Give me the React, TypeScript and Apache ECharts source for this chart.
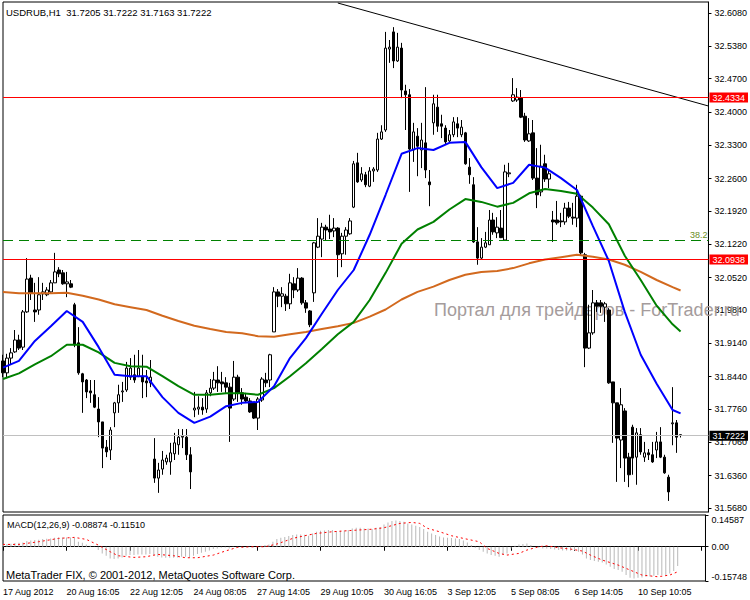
import React, { useEffect, useRef } from 'react';
import * as echarts from 'echarts';

const FONT = "'Liberation Sans', Arial, sans-serif";
const TOTAL_SLOTS = 178;

const timeLabels = ['17 Aug 2012', '20 Aug 16:05', '22 Aug 12:05', '24 Aug 08:05', '27 Aug 14:05', '29 Aug 10:05', '30 Aug 16:05', '3 Sep 12:05', '5 Sep 08:05', '6 Sep 14:05', '10 Sep 10:05'];
const priceTicks = [31.568, 31.636, 31.706, 31.776, 31.844, 31.914, 31.984, 32.052, 32.122, 32.192, 32.26, 32.33, 32.4, 32.47, 32.538, 32.608];
const macdTicks = [-0.15748, 0, 0.14587];

const opens = [31.877,31.852,31.883,31.896,31.921,31.906,31.980,32.051,31.984,31.984,32.018,32.016,32.022,32.041,32.068,32.062,32.039,32.039,31.995,31.915,31.850,31.837,31.814,31.806,31.776,31.749,31.696,31.690,31.768,31.789,31.812,31.816,31.843,31.848,31.845,31.845,31.835,31.831,31.671,31.631,31.650,31.665,31.665,31.682,31.701,31.717,31.717,31.680,31.774,31.776,31.780,31.776,31.810,31.820,31.837,31.833,31.831,31.822,31.797,31.843,31.810,31.801,31.793,31.789,31.757,31.795,31.837,31.837,31.938,32.022,32.013,32.013,31.997,32.039,32.026,32.051,31.999,31.982,32.020,32.116,32.133,32.158,32.154,32.150,32.156,32.102,32.139,32.144,32.200,32.293,32.257,32.268,32.244,32.276,32.278,32.343,32.362,32.532,32.568,32.507,32.534,32.444,32.436,32.320,32.349,32.320,32.335,32.253,32.377,32.410,32.375,32.366,32.339,32.352,32.375,32.352,32.356,32.284,32.247,32.127,32.093,32.116,32.121,32.173,32.146,32.156,32.131,32.270,32.423,32.425,32.429,32.391,32.339,32.356,32.261,32.232,32.291,32.259,32.173,32.173,32.171,32.169,32.198,32.179,32.177,32.223,32.100,31.904,31.936,31.999,31.999,31.990,31.984,31.833,31.789,31.711,31.772,31.675,31.738,31.675,31.722,31.675,31.684,31.680,31.690,31.707,31.675,31.633,31.745,31.747,31.7205];
const closes = [31.852,31.883,31.894,31.921,31.904,31.980,32.049,32.020,31.980,32.016,32.022,32.026,32.041,32.064,32.060,32.039,32.043,32.032,31.911,31.852,31.833,31.812,31.810,31.780,31.749,31.694,31.686,31.732,31.789,31.806,31.814,31.862,31.862,31.837,31.862,31.833,31.831,31.843,31.631,31.648,31.669,31.673,31.684,31.705,31.717,31.719,31.680,31.644,31.778,31.780,31.774,31.810,31.820,31.837,31.831,31.829,31.822,31.778,31.843,31.810,31.797,31.793,31.770,31.757,31.797,31.839,31.831,31.890,32.022,32.013,32.018,31.997,32.041,32.026,32.051,31.999,31.988,31.953,32.125,32.139,32.158,32.152,32.148,32.156,32.100,32.139,32.152,32.171,32.291,32.253,32.270,32.247,32.276,32.280,32.343,32.358,32.534,32.536,32.507,32.536,32.446,32.436,32.322,32.358,32.328,32.341,32.278,32.247,32.417,32.370,32.370,32.337,32.352,32.379,32.366,32.368,32.291,32.268,32.127,32.093,32.116,32.125,32.173,32.148,32.158,32.136,32.274,32.272,32.436,32.431,32.389,32.341,32.354,32.261,32.226,32.286,32.259,32.270,32.169,32.167,32.169,32.198,32.181,32.177,32.223,32.104,31.904,31.936,31.999,31.992,31.992,31.997,31.831,31.789,31.715,31.785,31.673,31.638,31.673,31.726,31.686,31.684,31.680,31.665,31.707,31.675,31.642,31.602,31.747,31.717,31.7222];
const highs = [31.890,31.892,31.904,31.942,31.932,31.984,32.093,32.058,32.041,32.053,32.041,32.032,32.047,32.104,32.074,32.068,32.064,32.047,31.999,31.948,31.852,31.839,31.837,31.837,31.801,31.749,31.711,31.738,31.791,31.827,31.833,31.875,31.883,31.890,31.900,31.890,31.858,31.879,31.715,31.663,31.688,31.680,31.705,31.726,31.734,31.734,31.734,31.696,31.812,31.803,31.799,31.816,31.839,31.854,31.866,31.854,31.843,31.831,31.877,31.848,31.820,31.810,31.799,31.791,31.801,31.843,31.852,31.892,32.032,32.028,32.032,32.018,32.060,32.053,32.072,32.053,32.005,31.984,32.127,32.177,32.167,32.163,32.184,32.177,32.158,32.146,32.158,32.177,32.297,32.314,32.284,32.274,32.284,32.284,32.356,32.372,32.568,32.551,32.578,32.566,32.545,32.457,32.448,32.377,32.366,32.377,32.452,32.278,32.436,32.436,32.394,32.372,32.362,32.389,32.389,32.383,32.358,32.303,32.263,32.158,32.135,32.148,32.194,32.188,32.179,32.194,32.289,32.293,32.471,32.450,32.446,32.398,32.387,32.383,32.324,32.331,32.310,32.278,32.192,32.213,32.188,32.209,32.211,32.209,32.247,32.226,32.104,31.995,32.026,32.005,32.005,32.001,31.988,31.833,31.789,31.820,31.778,31.684,31.743,31.736,31.736,31.707,31.692,31.707,31.728,31.738,31.680,31.638,31.822,31.753,31.7222];
const lows = [31.843,31.841,31.869,31.894,31.900,31.900,31.978,32.005,31.959,31.974,32.005,32.013,32.020,32.041,32.053,32.037,32.011,32.030,31.906,31.848,31.768,31.799,31.789,31.778,31.717,31.652,31.675,31.669,31.738,31.768,31.791,31.812,31.837,31.831,31.843,31.799,31.801,31.822,31.621,31.600,31.638,31.659,31.638,31.669,31.680,31.694,31.669,31.608,31.759,31.764,31.764,31.768,31.803,31.816,31.812,31.812,31.810,31.707,31.793,31.791,31.785,31.789,31.768,31.755,31.732,31.791,31.822,31.822,31.938,31.990,31.990,31.982,31.986,32.009,32.022,31.995,31.978,31.948,32.001,32.114,32.095,32.131,32.133,32.137,32.053,32.074,32.100,32.142,32.198,32.251,32.253,32.242,32.242,32.253,32.274,32.341,32.358,32.503,32.492,32.505,32.429,32.362,32.232,32.295,32.265,32.282,32.261,32.202,32.352,32.358,32.345,32.331,32.335,32.347,32.347,32.347,32.289,32.249,32.125,32.079,32.089,32.114,32.121,32.142,32.135,32.135,32.129,32.263,32.421,32.421,32.387,32.337,32.337,32.257,32.198,32.223,32.253,32.240,32.127,32.163,32.158,32.163,32.177,32.163,32.158,32.100,31.864,31.902,31.932,31.980,31.978,31.959,31.829,31.705,31.623,31.652,31.623,31.612,31.638,31.617,31.680,31.665,31.669,31.663,31.673,31.673,31.640,31.583,31.700,31.684,31.7163];

const maIndex = [0,4,8,12,16,20,24,28,32,36,40,44,48,52,56,60,64,68,72,76,80,84,88,92,96,100,104,108,112,116,120,124,128,132,136,140,144,148,152,156,160,164,168,170];
const maBlue = [31.863,31.877,31.919,31.950,31.982,31.959,31.906,31.848,31.845,31.845,31.801,31.768,31.747,31.760,31.782,31.789,31.791,31.824,31.883,31.925,31.976,32.026,32.068,32.142,32.226,32.312,32.324,32.320,32.335,32.337,32.284,32.240,32.251,32.289,32.283,32.261,32.236,32.160,32.087,31.980,31.890,31.829,31.774,31.767];
const maGreen = [31.839,31.851,31.870,31.887,31.911,31.911,31.895,31.873,31.866,31.865,31.845,31.824,31.806,31.806,31.809,31.809,31.806,31.820,31.845,31.872,31.902,31.933,31.959,32.005,32.062,32.123,32.153,32.169,32.195,32.217,32.211,32.201,32.209,32.229,32.238,32.234,32.228,32.199,32.164,32.098,32.047,31.993,31.954,31.939];
const maOrange = [32.022,32.019,32.019,32.019,32.020,32.014,32.006,31.996,31.990,31.984,31.972,31.961,31.951,31.944,31.938,31.935,31.929,31.928,31.933,31.938,31.944,31.950,31.957,31.970,31.985,32.006,32.022,32.033,32.047,32.058,32.064,32.066,32.072,32.082,32.090,32.095,32.100,32.096,32.090,32.079,32.064,32.047,32.032,32.025];

const macdMain = [0.0107,0.0123,0.0138,0.0169,0.0184,0.0199,0.0260,0.0291,0.0306,0.0322,0.0352,0.0368,0.0383,0.0414,0.0429,0.0429,0.0429,0.0429,0.0414,0.0230,0.0184,0.0107,0.0046,-0.0015,-0.0153,-0.0306,-0.0414,-0.0536,-0.0567,-0.0536,-0.0490,-0.0414,-0.0383,-0.0383,-0.0352,-0.0352,-0.0352,-0.0337,-0.0383,-0.0460,-0.0490,-0.0506,-0.0506,-0.0506,-0.0490,-0.0460,-0.0460,-0.0506,-0.0414,-0.0337,-0.0276,-0.0230,-0.0169,-0.0107,-0.0077,-0.0046,-0.0031,-0.0077,-0.0015,0.0015,0.0015,0.0000,-0.0015,-0.0031,0.0000,0.0046,0.0077,0.0107,0.0230,0.0352,0.0414,0.0444,0.0490,0.0536,0.0567,0.0567,0.0552,0.0506,0.0613,0.0689,0.0735,0.0751,0.0766,0.0766,0.0720,0.0735,0.0751,0.0766,0.0843,0.0873,0.0873,0.0843,0.0843,0.0812,0.0873,0.0904,0.1026,0.1118,0.1180,0.1210,0.1180,0.1149,0.1072,0.1026,0.0965,0.0904,0.0812,0.0689,0.0613,0.0536,0.0475,0.0429,0.0414,0.0398,0.0383,0.0352,0.0291,0.0199,0.0077,-0.0046,-0.0153,-0.0230,-0.0306,-0.0383,-0.0414,-0.0460,-0.0383,-0.0306,-0.0077,0.0046,0.0107,0.0123,0.0153,0.0077,0.0000,-0.0046,-0.0077,-0.0077,-0.0107,-0.0123,-0.0153,-0.0169,-0.0169,-0.0184,-0.0153,-0.0230,-0.0352,-0.0536,-0.0613,-0.0659,-0.0689,-0.0720,-0.0812,-0.0919,-0.1026,-0.1072,-0.1149,-0.1302,-0.1425,-0.1455,-0.1425,-0.1409,-0.1379,-0.1363,-0.1333,-0.1302,-0.1302,-0.1333,-0.1226,-0.1118,-0.08874];
const signalIndex = [0,4,9,14,18,21,24,27,29,33,36,39,43,46,49,53,56,59,63,66,69,73,76,79,83,88,93,96,100,103,105,107,110,113,116,120,122,125,127,130,132,135,137,140,143,146,148,151,155,158,161,165,168,170];
const signalValues = [0.0107,0.0107,0.0230,0.0383,0.0429,0.0337,0.0077,-0.0230,-0.0414,-0.0490,-0.0460,-0.0352,-0.0414,-0.0506,-0.0506,-0.0383,-0.0199,-0.0031,0,0,0.0123,0.0383,0.0506,0.0613,0.0689,0.0751,0.0805,0.0873,0.1072,0.1118,0.1072,0.0843,0.0689,0.0506,0.0383,0.0230,-0.0077,-0.0306,-0.0383,-0.0306,-0.0153,0,0.0046,-0.0046,-0.0107,-0.0199,-0.0383,-0.0613,-0.0843,-0.1072,-0.1302,-0.1379,-0.1302,-0.1151];

const levelResist = 32.4334;
const levelSupport = 32.0938;
const bidPrice = 31.7222;
const fiboLevel = 32.135;
const trendStart = [84, 32.6287];
const trendEnd = [177, 32.4124];

const headerText = 'USDRUB,H1\u00A0\u00A031.7205 31.7222 31.7163 31.7222';
const macdText = 'MACD(12,26,9) -0.08874 -0.11510';
const copyrightText = 'MetaTrader FIX, \u00A9 2001-2012, MetaQuotes Software Corp.';
const watermarkText = 'Портал для трейдеров - ForTrader.ru';

export default function App() {
  const ref = useRef<HTMLDivElement>(null);
  useEffect(() => {
    const chart = echarts.init(ref.current!, null, { renderer: 'svg' });
    const cats = Array.from({ length: TOTAL_SLOTS }, (_, i) => String(i));
    const candleData = opens.map((o, i) => [o, closes[i], lows[i], highs[i]]);
    const pairs = (idx: number[], vals: number[]) => idx.map((x, k) => [x, vals[k]]);
    const priceLabel = (v: number, bg: string) => ({
      yAxis: v,
      lineStyle: { color: bg === '#000000' ? '#c0c0c0' : '#ff0000', width: 1, type: 'solid' },
      label: {
        show: true, position: 'end', formatter: v.toFixed(4), backgroundColor: bg, color: '#fff',
        padding: [1, 3, 0, 3], distance: 1, fontSize: 9, fontFamily: FONT,
      },
    });
    const option: any = {
      animation: false,
      backgroundColor: '#fff',
      grid: [
        { left: 3, top: 2, width: 707, height: 510, show: true, borderColor: '#000', borderWidth: 1, backgroundColor: '#fff' },
        { left: 3, top: 515, width: 707, height: 66, show: true, borderColor: '#000', borderWidth: 1, backgroundColor: '#fff' },
      ],
      xAxis: [
        { gridIndex: 0, type: 'category', data: cats, boundaryGap: false, axisLine: { show: false }, axisTick: { show: false }, axisLabel: { show: false }, splitLine: { show: false } },
        {
          gridIndex: 1, type: 'category', data: cats, boundaryGap: false,
          axisLine: { show: true, lineStyle: { color: '#000' } },
          axisTick: { show: true, interval: 15, length: 4, lineStyle: { color: '#000' } },
          axisLabel: {
            interval: 15, align: 'left', margin: 6, color: '#000', fontSize: 9, fontFamily: FONT,
            formatter: (_v: string, idx: number) => (idx % 16 === 0 && timeLabels[idx / 16]) || '',
          },
          splitLine: { show: false },
        },
      ],
      yAxis: [
        {
          gridIndex: 0, type: 'value', position: 'right', min: 31.5598, max: 32.6308, scale: true,
          axisLine: { show: true, lineStyle: { color: '#000' } },
          axisTick: { show: true, length: 3, customValues: priceTicks, lineStyle: { color: '#000' } },
          axisLabel: { customValues: priceTicks, formatter: (v: number) => v.toFixed(4), color: '#000', fontSize: 9, fontFamily: FONT, margin: 6 },
          splitLine: { show: false },
        },
        {
          gridIndex: 1, type: 'value', position: 'right', min: -0.15748, max: 0.14587,
          axisLine: { show: true, lineStyle: { color: '#000' } },
          axisTick: { show: true, length: 3, customValues: macdTicks, lineStyle: { color: '#000' } },
          axisLabel: {
            customValues: macdTicks, formatter: (v: number) => (v === 0 ? '0.00' : v.toFixed(5)),
            color: '#000', fontSize: 9, fontFamily: FONT, margin: 6,
            verticalAlignMinLabel: 'bottom', verticalAlignMaxLabel: 'top',
          },
          splitLine: { show: false },
        },
      ],
      graphic: [
        { type: 'text', x: 6, y: 12, z: 1, silent: true, style: { text: headerText, fontSize: 9.5, fontFamily: FONT, fill: '#000', verticalAlign: 'middle' } },
        { type: 'text', x: 434, y: 310, z: 1, silent: true, style: { text: watermarkText, fontSize: 18, fontFamily: FONT, fill: '#a59c9c', verticalAlign: 'middle' } },
        { type: 'text', x: 7, y: 525, z: 1, silent: true, style: { text: macdText, fontSize: 9, fontFamily: FONT, fill: '#000', verticalAlign: 'middle' } },
        { type: 'text', x: 6, y: 575, z: 1, silent: true, style: { text: copyrightText, fontSize: 11, fontFamily: FONT, fill: '#000', verticalAlign: 'middle' } },
      ],
      series: [
        {
          name: 'levels', type: 'line', xAxisIndex: 0, yAxisIndex: 0, data: [], z: 1, silent: true,
          markLine: {
            silent: true, symbol: ['none', 'none'], animation: false,
            data: [
              priceLabel(levelResist, '#ff0000'),
              priceLabel(levelSupport, '#ff0000'),
              priceLabel(bidPrice, '#000000'),
              {
                yAxis: fiboLevel,
                lineStyle: { color: '#008000', width: 1, type: [10, 6] },
                label: { show: true, position: 'insideEndTop', formatter: '38.2', color: '#6b8e23', fontSize: 9, fontFamily: FONT, distance: 1 },
              },
            ],
          },
        },
        {
          name: 'USDRUB', type: 'candlestick', xAxisIndex: 0, yAxisIndex: 0, data: candleData, barWidth: 3, z: 2,
          itemStyle: { color: '#ffffff', color0: '#000000', borderColor: '#000000', borderColor0: '#000000', borderWidth: 1 },
        },
        { name: 'MA slow', type: 'line', xAxisIndex: 0, yAxisIndex: 0, data: pairs(maIndex, maOrange), symbol: 'none', z: 3, lineStyle: { color: '#d2691e', width: 2 } },
        { name: 'MA mid', type: 'line', xAxisIndex: 0, yAxisIndex: 0, data: pairs(maIndex, maGreen), symbol: 'none', z: 3, lineStyle: { color: '#008000', width: 2 } },
        { name: 'MA fast', type: 'line', xAxisIndex: 0, yAxisIndex: 0, data: pairs(maIndex, maBlue), symbol: 'none', z: 4, lineStyle: { color: '#0000ff', width: 2 } },
        { name: 'trend', type: 'line', xAxisIndex: 0, yAxisIndex: 0, data: [trendStart, trendEnd], symbol: 'none', z: 4, lineStyle: { color: '#000', width: 1 } },
        { name: 'MACD', type: 'bar', xAxisIndex: 1, yAxisIndex: 1, data: macdMain, barWidth: 1, itemStyle: { color: '#b8b8b8' }, z: 2 },
        { name: 'Signal', type: 'line', xAxisIndex: 1, yAxisIndex: 1, data: pairs(signalIndex, signalValues), symbol: 'none', z: 3, lineStyle: { color: '#ff0000', width: 1, type: [2, 3] } },
      ],
    };
    chart.setOption(option);
    return () => chart.dispose();
  }, []);
  return <div ref={ref} style={{ position: 'fixed', left: 0, top: 0, width: 750, height: 600, background: '#fff' }} />;
}
